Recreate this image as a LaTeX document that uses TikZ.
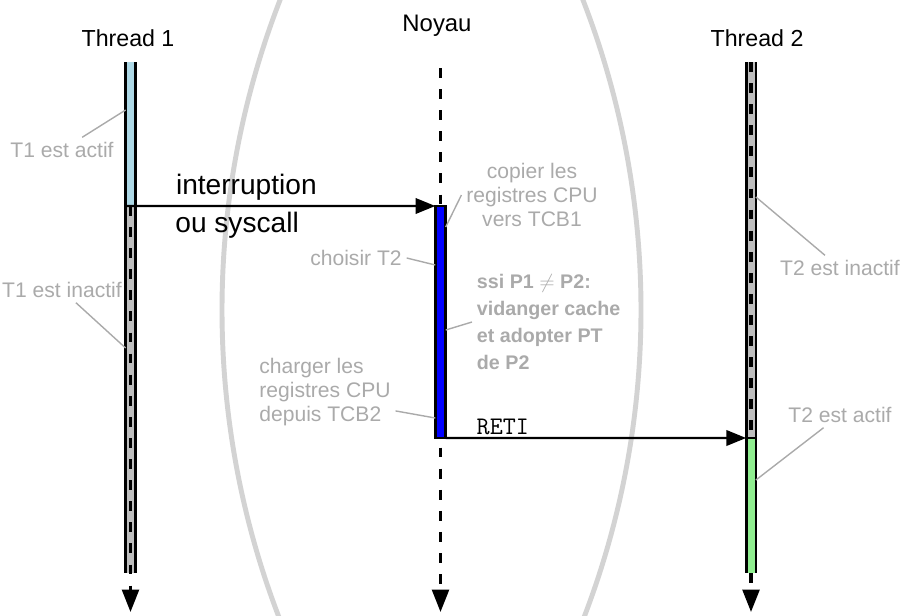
\documentclass[tikz,border=0pt]{standalone}
\usepackage{fontspec}
\setmainfont{Liberation Sans}
\usetikzlibrary{arrows.meta}
\definecolor{lbl}{RGB}{170,170,170}
\definecolor{arcgray}{RGB}{211,211,211}
\definecolor{actif}{RGB}{173,216,230}
\definecolor{inactif}{RGB}{190,190,190}
\definecolor{actifvert}{RGB}{144,238,144}
\tikzset{
	bar/.style={fill=#1, minimum width=0.245cm, inner sep=0pt, outer sep=0pt, anchor=north},
	rail/.style={line width=2pt},
	life/.style={line width=2.2pt, dash pattern=on 7pt off 8pt, -{Triangle[length=16pt,width=12pt]}},
	msg/.style={line width=1.5pt, -{Triangle[length=14pt,width=11pt]}},
	note/.style={text=lbl, font=\fontsize{15}{17}\selectfont, align=center},
	lead/.style={draw=lbl, line width=1pt},
	title/.style={font=\fontsize{16.5}{20}\selectfont, anchor=base},
}
\begin{document}
\begin{tikzpicture}
	\useasboundingbox (0,0) rectangle (22.575,-15.375);
	\begin{scope}
		\clip (0,0) rectangle (22.575,-15.375);
		\draw[arcgray, line width=3.5pt] (26.975,-7.75) ++(155:21.425) arc (155:205:21.425);
		\draw[arcgray, line width=3.5pt] (-5.4,-7.75) ++(-25:21.425) arc (-25:25:21.425);
	\end{scope}
	
	\node[title] (th1) at (3.2,-1.15) {Thread 1};
	\node[title, font=\fontsize{17}{20}\selectfont] (noyau) at (10.925,-0.775) {Noyau};
	\node[title] (th2) at (18.925,-1.15) {Thread 2};
	
	\node[bar=inactif, minimum height=9.175cm] (t1off) at (3.2625,-5.15) {};
	\node[bar=inactif, minimum height=9.4cm] (t2off) at (18.775,-1.55) {};
	\coordinate (t1end) at (3.2625,-15.3);
	\coordinate (kstart) at (11.0125,-1.7);
	\coordinate (kend) at (11.0125,-15.3);
	\coordinate (t2end) at (18.775,-15.3);
	\draw[life] (t1off.north) -- (t1end);
	\draw[life] (kstart) -- (kend);
	\draw[life, -] (t2off.north) -- (t2off.south);
	
	\node[bar=actif, minimum height=3.6cm] (t1on) at (3.2625,-1.55) {};
	\node[bar=actifvert, minimum height=3.375cm] (t2on) at (t2off.south) {};
	\draw[life] (t2on.south) -- (t2end);
	\node[bar=blue, draw=black, line width=1.8pt, minimum width=0.26cm, minimum height=5.8cm] (kbar) at (11.0125,-5.15) {};
	
	\draw[rail] (t1on.north west) -- (t1off.south west);
	\draw[rail] (t1on.north east) -- (t1off.south east);
	\draw[rail] (t2off.north west) -- (t2on.south west);
	\draw[rail] (t2off.north east) -- (t2on.south east);
	\draw[rail] (t2on.north west) -- (t2on.north east);
	
	\draw[msg] (t1on.south west) -- (kbar.north west)
		node[pos=0.39, above, font=\fontsize{20}{24}\selectfont] {interruption}
		node[pos=0.36, below, font=\fontsize{20}{24}\selectfont] {ou syscall};
	\draw[msg] (kbar.south east) -- (t2on.north west)
		node[pos=0.19, above, inner sep=1.5pt, font=\ttfamily\fontsize{18}{20}\selectfont] {RETI};
	
	\node[note] (lt1on) at (1.55,-3.75) {T1 est actif};
	\node[note] (lt1off) at (1.55,-7.25) {T1 est inactif};
	\node[note] (lcopier) at (13.3,-4.875) {copier les\\registres CPU\\vers TCB1};
	\node[note] (lchoisir) at (8.9,-6.45) {choisir T2};
	\node[note, font=\bfseries\fontsize{14}{19}\selectfont, align=left, anchor=west] (lssi) at (11.8,-8.05) {ssi P1 $\neq$ P2:\\vidanger cache\\et adopter PT\\de P2};
	\node[note, align=left] (lcharger) at (8.125,-9.8) {charger les\\registres CPU\\depuis TCB2};
	\node[note] (lt2off) at (21.0,-6.7) {T2 est inactif};
	\node[note] (lt2on) at (21.0,-10.375) {T2 est actif};
	
	\draw[lead] (t1on.west |- 0,-2.75) -- (lt1on);
	\draw[lead] (t1off.west |- 0,-8.7) -- (lt1off);
	\draw[lead] (kbar.east |- 0,-5.675) -- (lcopier.west);
	\draw[lead] (kbar.west |- 0,-6.625) -- (lchoisir.east);
	\draw[lead] (kbar.east |- 0,-8.25) -- (lssi.west);
	\draw[lead] (kbar.west |- 0,-10.45) -- (lcharger.-15);
	\draw[lead] (t2off.east |- 0,-4.925) -- (lt2off);
	\draw[lead] (t2on.east |- 0,-12.0) -- (lt2on);
\end{tikzpicture}
\end{document}
